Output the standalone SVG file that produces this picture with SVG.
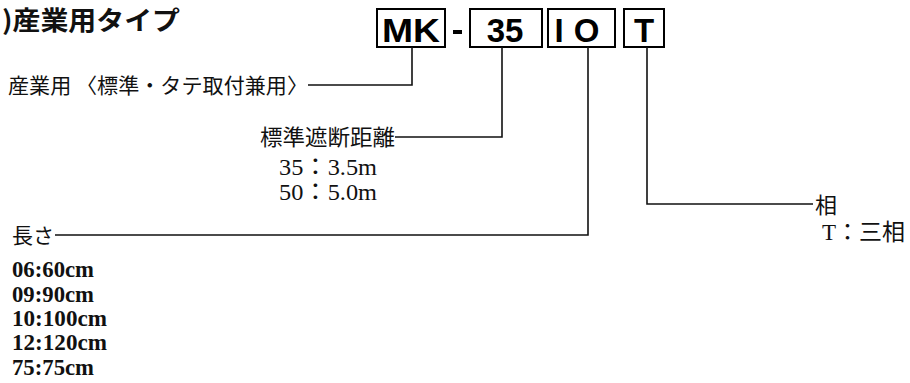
<svg xmlns="http://www.w3.org/2000/svg" width="910" height="383" viewBox="0 0 910 383">
<style>
.jp{font-family:"Noto Sans CJK JP","Noto Sans CJK SC",sans-serif;fill:#111}
.sr{font-family:"Liberation Serif","Noto Sans CJK JP",serif;fill:#111}
.code{font-family:"Liberation Sans",Arial,sans-serif;font-weight:bold;font-size:33px;fill:#000;text-anchor:middle}
.box{fill:#fff;stroke:#000;stroke-width:2}
.ln{fill:none;stroke:#111;stroke-width:1.6}
</style>
<rect width="910" height="383" fill="#fff"/>
<g id="title"><text class="jp" x="2" y="30" font-size="26" font-weight="bold" textLength="178" lengthAdjust="spacingAndGlyphs">)産業用タイプ</text></g>
<g id="code">
<g id="box-mk"><rect class="box" x="377" y="9" width="68" height="38"/><text class="code" x="411" y="42" textLength="58" lengthAdjust="spacingAndGlyphs">MK</text></g>
<g id="dash"><rect x="453" y="30" width="9" height="4" fill="#000"/></g>
<g id="box-35"><rect class="box" x="470" y="9" width="72" height="38"/><text class="code" x="505" y="42">35</text></g>
<g id="box-io"><rect class="box" x="548" y="9" width="67" height="38"/><text class="code" x="582" y="42" letter-spacing="10">IO</text></g>
<g id="box-t"><rect class="box" x="624" y="9" width="40" height="38"/><text class="code" x="644" y="42">T</text></g>
</g>
<g id="connectors">
<polyline class="ln" points="412,47 412,85 308,85"/>
<polyline class="ln" points="502,47 502,137 395,137"/>
<polyline class="ln" points="588,47 588,235 55,235"/>
<polyline class="ln" points="647,47 647,204 813,204"/>
</g>
<g id="label-use"><text class="jp" x="8" y="93" font-size="21" textLength="300" lengthAdjust="spacingAndGlyphs">産業用 〈標準・タテ取付兼用〉</text></g>
<g id="label-dist">
<text class="jp" x="260" y="145" font-size="22" textLength="135" lengthAdjust="spacingAndGlyphs">標準遮断距離</text>
<text class="sr" x="279" y="175" font-size="24" textLength="98" lengthAdjust="spacingAndGlyphs">35：3.5m</text>
<text class="sr" x="279" y="200" font-size="24" textLength="98" lengthAdjust="spacingAndGlyphs">50：5.0m</text>
</g>
<g id="label-len">
<text class="jp" x="12" y="243" font-size="21">長さ</text>
<text class="sr" x="12" y="277" font-size="23" font-weight="bold" textLength="82" lengthAdjust="spacingAndGlyphs">06:60cm</text>
<text class="sr" x="12" y="302" font-size="23" font-weight="bold" textLength="82" lengthAdjust="spacingAndGlyphs">09:90cm</text>
<text class="sr" x="12" y="326" font-size="23" font-weight="bold" textLength="95" lengthAdjust="spacingAndGlyphs">10:100cm</text>
<text class="sr" x="12" y="350" font-size="23" font-weight="bold" textLength="95" lengthAdjust="spacingAndGlyphs">12:120cm</text>
<text class="sr" x="12" y="375" font-size="23" font-weight="bold" textLength="82" lengthAdjust="spacingAndGlyphs">75:75cm</text>
</g>
<g id="label-phase">
<text class="jp" x="815" y="213" font-size="22">相</text>
<text class="sr" x="822" y="240" font-size="23">T<tspan class="jp">：三相</tspan></text>
</g>
</svg>
